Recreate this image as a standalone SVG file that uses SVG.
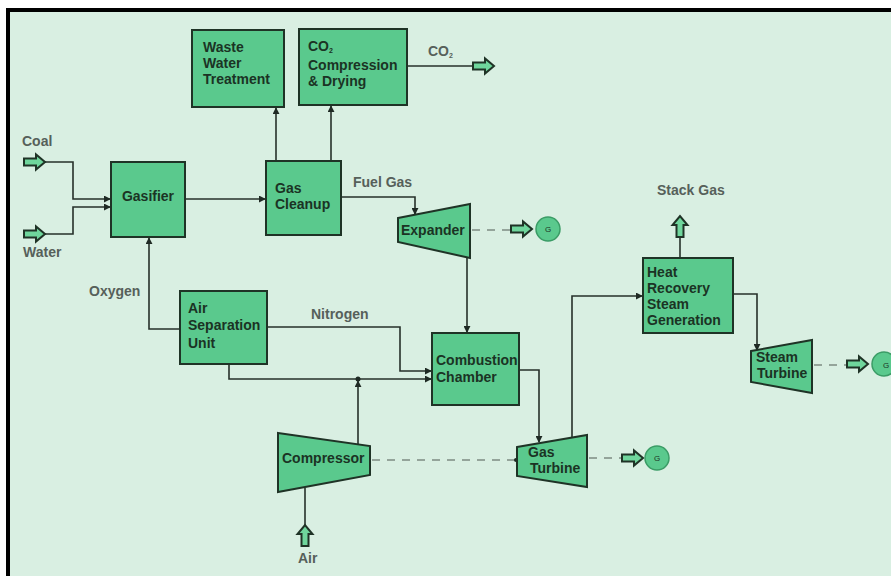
<svg xmlns="http://www.w3.org/2000/svg" width="891" height="576" viewBox="0 0 891 576">
<style>
.bg{fill:#d9efe2}
.box{fill:#5ac98d;stroke:#1f3326;stroke-width:2}
.t{font-family:"Liberation Sans",Arial,sans-serif;font-weight:bold;font-size:14px;fill:#1b3324}
.lbl{font-family:"Liberation Sans",Arial,sans-serif;font-weight:bold;font-size:14px;fill:#56605a}
.ln{fill:none;stroke:#26302a;stroke-width:1.6}
.dash{fill:none;stroke:#7d8c83;stroke-width:1.6;stroke-dasharray:8 7}
.blk{fill:#6fd69c;stroke:#1f3326;stroke-width:2}
.gen{fill:#5ac98d;stroke:#3b9c66;stroke-width:1.5}
.g{font-family:"Liberation Sans",Arial,sans-serif;font-size:8px;fill:#1b3324;text-anchor:middle}
</style>
<defs>
<marker id="ah" viewBox="0 0 8 8" refX="7" refY="4" markerWidth="7" markerHeight="7" markerUnits="userSpaceOnUse" orient="auto">
<path d="M0,0 L8,4 L0,8 Z" fill="#1f2a24"/>
</marker>
<path id="blkR" d="M0,-3.5 H12 V-7.5 L21,0 L12,7.5 V3.5 H0 Z"/>
</defs>
<rect x="0" y="0" width="891" height="576" fill="#ffffff"/>
<rect class="bg" x="10" y="12" width="881" height="564"/>
<rect x="6" y="8" width="885" height="4" fill="#000"/>
<rect x="6" y="8" width="4" height="568" fill="#000"/>

<g id="connectors">
<path class="ln" d="M45,162 H73 V199 H110" marker-end="url(#ah)"/>
<path class="ln" d="M45,234 H73 V207 H110" marker-end="url(#ah)"/>
<path class="ln" d="M185,199 H265" marker-end="url(#ah)"/>
<path class="ln" d="M276,161 V108" marker-end="url(#ah)"/>
<path class="ln" d="M331,161 V106" marker-end="url(#ah)"/>
<path class="ln" d="M407,66 H473"/>
<path class="ln" d="M341,197 H415 V214" marker-end="url(#ah)"/>
<path class="ln" d="M467,257 V332" marker-end="url(#ah)"/>
<path class="dash" d="M472,230 H510"/>
<path class="ln" d="M180,329 H149 V238" marker-end="url(#ah)"/>
<path class="ln" d="M267,327 H400 V371 H431" marker-end="url(#ah)"/>
<path class="ln" d="M229,364 V379 H431" marker-end="url(#ah)"/>
<circle cx="358" cy="379" r="2.5" fill="#1f2a24"/>
<path class="ln" d="M358,444 V381" marker-end="url(#ah)"/>
<path class="ln" d="M305,525 V488"/>
<path class="dash" d="M372,460 H516"/>
<circle cx="516" cy="460" r="2" fill="#1f2a24"/>
<path class="ln" d="M519,370 H539 V442" marker-end="url(#ah)"/>
<path class="dash" d="M589,458 H621"/>
<path class="ln" d="M572,438 V296 H642" marker-end="url(#ah)"/>
<path class="ln" d="M680,258 V236"/>
<path class="ln" d="M733,294 H757 V350" marker-end="url(#ah)"/>
<path class="dash" d="M814,365 H846"/>
</g>

<g id="coal-in">
<use href="#blkR" class="blk" transform="translate(24,162)"/>
<text class="lbl" x="22" y="146">Coal</text>
</g>
<g id="water-in">
<use href="#blkR" class="blk" transform="translate(24,234)"/>
<text class="lbl" x="23" y="257">Water</text>
</g>
<g id="co2-out">
<use href="#blkR" class="blk" transform="translate(473,66)"/>
<text class="lbl" x="428" y="56">CO<tspan font-size="7" dy="2">2</tspan></text>
</g>
<g id="air-in">
<use href="#blkR" class="blk" transform="translate(305,546) rotate(-90)"/>
<text class="lbl" x="298" y="563">Air</text>
</g>
<g id="stack-gas">
<use href="#blkR" class="blk" transform="translate(680,237) rotate(-90)"/>
<text class="lbl" x="657" y="195">Stack Gas</text>
</g>
<g id="labels">
<text class="lbl" x="89" y="296">Oxygen</text>
<text class="lbl" x="353" y="187">Fuel Gas</text>
<text class="lbl" x="311" y="319">Nitrogen</text>
</g>

<g id="waste-water">
<rect class="box" x="192" y="30" width="92" height="77"/>
<text class="t" x="203" y="52">Waste</text>
<text class="t" x="203" y="68">Water</text>
<text class="t" x="203" y="84">Treatment</text>
</g>
<g id="co2-compression">
<rect class="box" x="299" y="29" width="108" height="76"/>
<text class="t" x="308" y="51">CO<tspan font-size="7" dy="2">2</tspan></text>
<text class="t" x="308" y="70">Compression</text>
<text class="t" x="308" y="86">&amp; Drying</text>
</g>
<g id="gasifier">
<rect class="box" x="111" y="162" width="74" height="75"/>
<text class="t" x="148" y="201" text-anchor="middle">Gasifier</text>
</g>
<g id="gas-cleanup">
<rect class="box" x="266" y="161" width="75" height="74"/>
<text class="t" x="275" y="193">Gas</text>
<text class="t" x="275" y="209">Cleanup</text>
</g>
<g id="expander">
<polygon class="box" points="398,218 470,204 470,258 398,242"/>
<text class="t" x="401" y="235">Expander</text>
</g>
<g id="gen1">
<use href="#blkR" class="blk" transform="translate(511,229)"/>
<circle class="gen" cx="548" cy="229" r="12"/>
<text class="g" x="548" y="232">G</text>
</g>
<g id="asu">
<rect class="box" x="180" y="291" width="87" height="73"/>
<text class="t" x="188" y="313">Air</text>
<text class="t" x="188" y="330">Separation</text>
<text class="t" x="188" y="348">Unit</text>
</g>
<g id="combustion-chamber">
<rect class="box" x="432" y="333" width="87" height="72"/>
<text class="t" x="436" y="365">Combustion</text>
<text class="t" x="436" y="382">Chamber</text>
</g>
<g id="compressor">
<polygon class="box" points="278,433 370,446 370,475 278,492"/>
<text class="t" x="282" y="463">Compressor</text>
</g>
<g id="gas-turbine">
<polygon class="box" points="517,447 587,435 587,487 517,476"/>
<text class="t" x="528" y="457">Gas</text>
<text class="t" x="530" y="473">Turbine</text>
</g>
<g id="gen2">
<use href="#blkR" class="blk" transform="translate(622,458)"/>
<circle class="gen" cx="657" cy="458" r="12"/>
<text class="g" x="657" y="461">G</text>
</g>
<g id="hrsg">
<rect class="box" x="643" y="258" width="90" height="75"/>
<text class="t" x="647" y="277">Heat</text>
<text class="t" x="647" y="293">Recovery</text>
<text class="t" x="647" y="309">Steam</text>
<text class="t" x="647" y="325">Generation</text>
</g>
<g id="steam-turbine">
<polygon class="box" points="751,351 812,340 812,393 751,382"/>
<text class="t" x="756" y="362">Steam</text>
<text class="t" x="757" y="378">Turbine</text>
</g>
<g id="gen3">
<use href="#blkR" class="blk" transform="translate(847,364)"/>
<circle class="gen" cx="884" cy="364" r="12"/>
<text class="g" x="886" y="368" font-size="11">G</text>
</g>
</svg>
